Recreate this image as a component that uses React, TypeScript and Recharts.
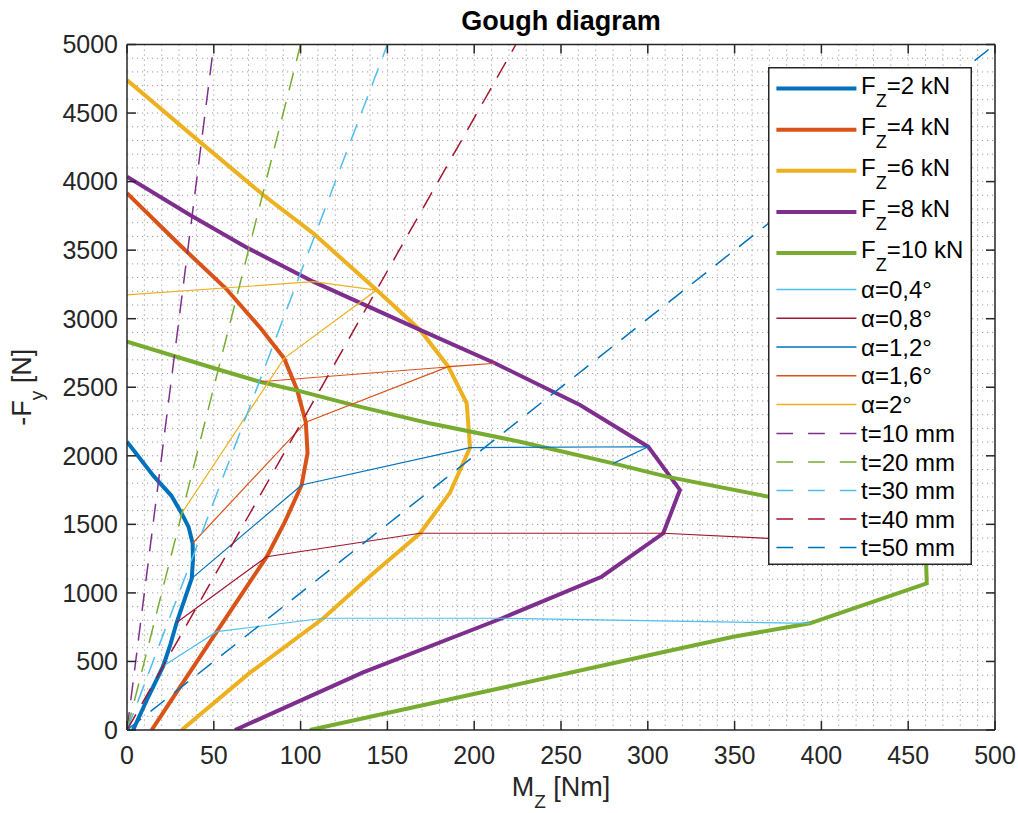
import React from 'react';
import { LineChart, Line, XAxis, YAxis, CartesianGrid, Legend, Label } from 'recharts';

const FONT = '"Liberation Sans", Arial, Helvetica, sans-serif';

// ---- Constant Fz curves (Mz [Nm], -Fy [N]) ----
const fz2Mz = [3.5, 12, 20.9, 25, 28.6, 33, 37.3, 38, 37.8, 35.5, 31.5, 25.5, 15.5, 0];
const fz2Fy = [0, 235, 467, 625, 784, 945, 1106, 1240, 1362, 1480, 1580, 1710, 1850, 2103];

const fz4Mz = [14.2, 33, 51.7, 66, 80.5, 91, 100.6, 104, 103, 98, 90.5, 77, 57, 31, 0];
const fz4Fy = [0, 360, 717, 990, 1264, 1520, 1787, 2020, 2245, 2480, 2711, 2930, 3220, 3530, 3915];

const fz6Mz = [31.5, 71, 113.1, 141.9, 168.8, 186, 197.6, 195.7, 185.1, 168.8, 143.8, 107.3, 78.5, 43, 0];
const fz6Fy = [0, 420, 815, 1143, 1435, 1730, 2060, 2383, 2650, 2918, 3209, 3623, 3902, 4279, 4741];

const fz8Mz = [62.2, 136, 216, 273.4, 308.9, 318.5, 300.3, 261, 212, 168.8, 107.3, 69.9, 36.3, 0];
const fz8Fy = [0, 420, 815, 1118, 1435, 1751, 2066, 2370, 2675, 2918, 3270, 3513, 3756, 4036];

const fz10Mz = [105.4, 214.9, 301.3, 349.3, 393.4, 460.7, 460, 430, 369.4, 310.9, 280.1, 226.4, 175, 130.4, 100.6, 76.6, 53.6, 0, -72];
const fz10Fy = [0, 304, 547, 680, 778, 1070, 1342, 1537, 1702, 1848, 1945, 2103, 2235, 2370, 2468, 2540, 2626, 2832, 3108];

// ---- Constant slip angle lines ----
const a04Mz = [20.9, 51.7, 113.1, 216, 393.4];
const a04Fy = [467, 717, 815, 815, 778];
const a08Mz = [28.6, 80.5, 168.8, 308.9, 460];
const a08Fy = [784, 1264, 1435, 1435, 1342];
const a12Mz = [37.3, 100.6, 197.6, 300.3, 280.1];
const a12Fy = [1106, 1787, 2060, 2066, 1945];
const a16Mz = [37.8, 103, 185.1, 212, 76.6];
const a16Fy = [1362, 2245, 2650, 2675, 2540];
const a20Mz = [31.5, 90.5, 143.8, 107.3, -72];
const a20Fy = [1580, 2711, 3209, 3270, 3108];

// ---- Constant pneumatic trail lines ----
const t10Mz = [0, 50];
const t20Mz = [0, 100];
const t30Mz = [0, 150];
const t40Mz = [0, 224];
const t50Mz = [0, 500];
const tFy = [0, 5000];

// ---- Labels / ticks ----
const fzLabels = ['2', '4', '6', '8', '10'];
const alphaLabels = ['0,4', '0,8', '1,2', '1,6', '2'];
const tLabels = ['10', '20', '30', '40', '50'];
const xTicks = [0, 50, 100, 150, 200, 250, 300, 350, 400, 450, 500];
const yTicks = [0, 500, 1000, 1500, 2000, 2500, 3000, 3500, 4000, 4500, 5000];
const xMinor = Array.from({ length: 49 }, (_, i) => (i + 1) * 10);
const yMinor = Array.from({ length: 49 }, (_, i) => (i + 1) * 100);

const C = {
  blue: '#0072BD', orange: '#D95319', yellow: '#EDB120', purple: '#7E2F8E',
  green: '#77AC30', cyan: '#4DBEEE', red: '#A2142F',
};

const zip = (xs: number[], ys: number[]) => xs.map((x, i) => ({ x, y: ys[i] }));

type Kind = 'fz' | 'alpha' | 't';
type Series = { id: string; kind: Kind; label: string; color: string; pts: { x: number; y: number }[] };

const fzData = [zip(fz2Mz, fz2Fy), zip(fz4Mz, fz4Fy), zip(fz6Mz, fz6Fy), zip(fz8Mz, fz8Fy), zip(fz10Mz, fz10Fy)];
const fzColors = [C.blue, C.orange, C.yellow, C.purple, C.green];
const aData = [zip(a04Mz, a04Fy), zip(a08Mz, a08Fy), zip(a12Mz, a12Fy), zip(a16Mz, a16Fy), zip(a20Mz, a20Fy)];
const aColors = [C.cyan, C.red, C.blue, C.orange, C.yellow];
const tData = [zip(t10Mz, tFy), zip(t20Mz, tFy), zip(t30Mz, tFy), zip(t40Mz, tFy), zip(t50Mz, tFy)];
const tColors = [C.purple, C.green, C.cyan, C.red, C.blue];

const series: Series[] = [
  ...fzData.map((pts, i) => ({ id: 'fz' + i, kind: 'fz' as Kind, label: fzLabels[i], color: fzColors[i], pts })),
  ...aData.map((pts, i) => ({ id: 'a' + i, kind: 'alpha' as Kind, label: alphaLabels[i], color: aColors[i], pts })),
  ...tData.map((pts, i) => ({ id: 't' + i, kind: 't' as Kind, label: tLabels[i], color: tColors[i], pts })),
];

const styleOf = (k: Kind) =>
  k === 'fz' ? { w: 4, dash: undefined as string | undefined }
  : k === 'alpha' ? { w: 1.2, dash: undefined }
  : { w: 1.5, dash: '18 12' };

const AXIS = '#262626';

function rowCenter(kind: Kind, i: number) {
  if (kind === 'fz') return 21.6 + i * 41.1;
  if (kind === 'alpha') return 222.6 + i * 28.7;
  return 366.6 + i * 28.5;
}

function LegendBox() {
  const W = 204, H = 498;
  const counters: Record<Kind, number> = { fz: 0, alpha: 0, t: 0 };
  return (
    <svg width={W} height={H} style={{ display: 'block' }}>
      <rect x={0.75} y={0.75} width={W - 1.5} height={H - 1.5} fill="#fff" stroke={AXIS} strokeWidth={1.5} />
      {series.map((s) => {
        const i = counters[s.kind]++;
        const cy = rowCenter(s.kind, i);
        const legendDash = s.kind === 't' ? '16.7 15' : undefined;
        return (
          <g key={s.id}>
            <line x1={8.4} x2={88.4} y1={cy} y2={cy} stroke={s.color} strokeWidth={s.kind === 'fz' ? 4 : 1.5} strokeDasharray={legendDash} />
            {s.kind === 'fz' ? (
              <text x={93} y={cy + 5} fontSize={24} fontFamily={FONT} fill="#000">
                F<tspan dy={13} fontSize={18}>Z</tspan><tspan dy={-13}>{'=' + s.label + ' kN'}</tspan>
              </text>
            ) : s.kind === 'alpha' ? (
              <text x={93} y={cy + 8.5} fontSize={24} fontFamily={FONT} fill="#000">{'α=' + s.label + '°'}</text>
            ) : (
              <text x={93} y={cy + 8.5} fontSize={24} fontFamily={FONT} fill="#000">{'t=' + s.label + ' mm'}</text>
            )}
          </g>
        );
      })}
    </svg>
  );
}

const XLabel = (props: any) => {
  const vb = props.viewBox || {};
  const cx = vb.x + vb.width / 2;
  const y = vb.y + 66;
  return (
    <text x={cx} y={y} textAnchor="middle" fontSize={27} fontFamily={FONT} fill={AXIS}>
      M<tspan dy={12} fontSize={19}>Z</tspan><tspan dy={-12}> [Nm]</tspan>
    </text>
  );
};

const YLabel = (props: any) => {
  const vb = props.viewBox || {};
  const cy = vb.y + vb.height / 2;
  const x = 31;
  return (
    <text x={x} y={cy} transform={`rotate(-90 ${x} ${cy})`} textAnchor="middle" fontSize={27} fontFamily={FONT} fill={AXIS}>
      -F<tspan dy={12} fontSize={19}>y</tspan><tspan dy={-12}> [N]</tspan>
    </text>
  );
};

const TitleLabel = (props: any) => {
  const vb = props.viewBox || {};
  const cx = vb.x + vb.width / 2;
  return (
    <text x={cx} y={vb.y - 14} textAnchor="middle" fontSize={27} fontWeight="bold" fontFamily={FONT} fill="#000">
      Gough diagram
    </text>
  );
};

export default function App() {
  const tickStyle = { fontSize: 25, fill: AXIS, fontFamily: FONT };
  const lineStyle = { stroke: AXIS, strokeWidth: 1.5 };
  return (
    <div style={{ position: 'absolute', left: 0, top: 0 }}>
      <LineChart width={1018} height={813} margin={{ top: 43.5, right: 22, bottom: 0, left: 0 }} style={{ fontFamily: FONT }}>
        <CartesianGrid
          verticalValues={xMinor}
          horizontalValues={yMinor}
          stroke="#9a9a9a"
          strokeDasharray="1.2 3.8"
          strokeWidth={1}
        />
        <XAxis
          type="number" dataKey="x" domain={[0, 500]} ticks={xTicks} interval={0} allowDataOverflow
          height={83} tickSize={-9} tickMargin={25} tick={tickStyle} axisLine={lineStyle} tickLine={lineStyle}
        >
          <Label content={XLabel} />
        </XAxis>
        <XAxis
          xAxisId="top" orientation="top" type="number" dataKey="x" domain={[0, 500]} ticks={xTicks} interval={0}
          allowDataOverflow height={1} tickSize={-9} tickFormatter={() => ''} axisLine={lineStyle} tickLine={lineStyle}
        >
          <Label content={TitleLabel} />
        </XAxis>
        <YAxis
          type="number" domain={[0, 5000]} ticks={yTicks} interval={0} allowDataOverflow
          width={127} tickSize={-9} tickMargin={18} tick={tickStyle} axisLine={lineStyle} tickLine={lineStyle}
        >
          <Label content={YLabel} />
        </YAxis>
        <YAxis
          yAxisId="right" orientation="right" type="number" domain={[0, 5000]} ticks={yTicks} interval={0}
          allowDataOverflow width={1} tickSize={-9} tickFormatter={() => ''} axisLine={lineStyle} tickLine={lineStyle}
        />
        {series.map((s) => {
          const st = styleOf(s.kind);
          return (
            <Line
              key={s.id}
              data={s.pts}
              dataKey="y"
              type="linear"
              stroke={s.color}
              strokeWidth={st.w}
              strokeDasharray={st.dash}
              dot={false}
              activeDot={false}
              isAnimationActive={false}
            />
          );
        })}
        <Legend
          layout="vertical" align="center" verticalAlign="middle"
          content={() => <LegendBox />}
          wrapperStyle={{ left: 768.3, top: 66.7, width: 204, height: 498 }}
        />
      </LineChart>
    </div>
  );
}
